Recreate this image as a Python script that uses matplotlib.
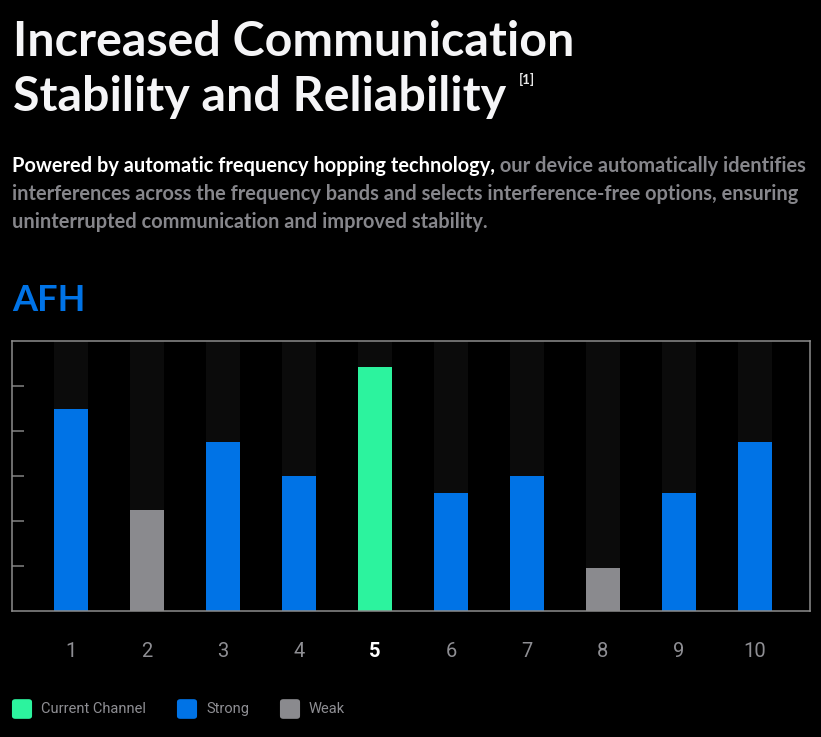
import matplotlib
matplotlib.use("Agg")
import matplotlib.pyplot as plt
from matplotlib.patches import FancyBboxPatch

# channel data
channels = [1, 2, 3, 4, 5, 6, 7, 8, 9, 10]
signal = [4.5, 2.25, 3.75, 3.0, 5.42, 2.62, 3.0, 0.96, 2.62, 3.75]
status = ["Strong", "Weak", "Strong", "Strong", "Current Channel",
          "Strong", "Strong", "Weak", "Strong", "Strong"]
current = 5
y_max = 6
y_ticks = [1, 2, 3, 4, 5]

legend_labels = ["Current Channel", "Strong", "Weak"]
colors = {"Current Channel": "#2cf39e", "Strong": "#0073e6", "Weak": "#8a8a8e"}

W, H = 821, 737


def fx(px):
    return px / W


def fy(py):
    return 1 - py / H


def main():
    fig = plt.figure(figsize=(W / 100, H / 100), dpi=100, facecolor="black")

    # headline
    title_font = dict(family="Lato", weight="bold", color="#f5f5f7", fontsize=34.8)
    fig.text(fx(13), fy(56), "Increased Communication", va="baseline", **title_font)
    t2 = fig.text(fx(13), fy(111), "Stability and Reliability", va="baseline", **title_font)

    ax = fig.add_axes([fx(12), 1 - 611 / H, 798 / W, 270 / H])
    ax.set_facecolor("black")
    ax.annotate("[1]", xy=(1, 0.74), xycoords=t2, xytext=(9, 0),
                textcoords="offset points", va="bottom", ha="left",
                color="#e8e8e8", fontsize=9.5, family="Lato", weight="bold")

    # paragraph
    para_font = dict(family="Lato", weight="bold", fontsize=14.45, va="baseline")
    p1 = fig.text(fx(12), fy(172), "Powered by automatic frequency hopping technology,",
                  color="white", **para_font)
    ax.annotate(" our device automatically identifies", xy=(1, 0), xycoords=p1,
                ha="left", va="bottom", color="#86868b",
                family="Lato", weight="bold", fontsize=14.45)
    fig.text(fx(12), fy(200), "interferences across the frequency bands and selects "
             "interference-free options, ensuring", color="#86868b", **para_font)
    fig.text(fx(12), fy(228), "uninterrupted communication and improved stability.",
             color="#86868b", **para_font)

    fig.text(fx(12), fy(311), "AFH", color="#0073e6", family="Lato",
             weight="bold", fontsize=26, va="baseline")

    # bars
    width = 0.447
    ax.bar(channels, [y_max] * len(channels), width=width, color="#0b0b0b", zorder=1)
    ax.bar(channels, signal, width=width,
           color=[colors[s] for s in status], zorder=2)

    ax.set_xlim(0.224, 10.724)
    ax.set_ylim(0, y_max)
    ax.set_yticks(y_ticks)
    ax.set_yticklabels([])
    ax.tick_params(axis="y", direction="in", length=8.5, width=1.3,
                   color="#6e6e6e", left=True)
    ax.set_xticks(channels)
    ax.set_xticklabels([str(c) for c in channels])
    ax.tick_params(axis="x", length=0, pad=22, labelsize=14.5, labelcolor="#8e8e93")
    for lbl, c in zip(ax.get_xticklabels(), channels):
        lbl.set_family("Roboto")
        if c == current:
            lbl.set_color("white")
            lbl.set_weight("bold")
    for sp in ax.spines.values():
        sp.set_color("#8c8c8c")
        sp.set_linewidth(1.1)

    # legend
    legend_x = [12, 177, 280]
    for x0, name in zip(legend_x, legend_labels):
        box = FancyBboxPatch((fx(x0 + 2), fy(717)), fx(16), 16 / H,
                             boxstyle="round,pad=0.0025,rounding_size=0.004",
                             transform=fig.transFigure, facecolor=colors[name],
                             edgecolor="none")
        fig.patches.append(box)
        fig.text(fx(x0 + 29), fy(709), name, color="#8e8e93", family="Roboto",
                 fontsize=10.5, va="center")

    fig.savefig("out.png", dpi=100, facecolor="black")


if __name__ == "__main__":
    main()
